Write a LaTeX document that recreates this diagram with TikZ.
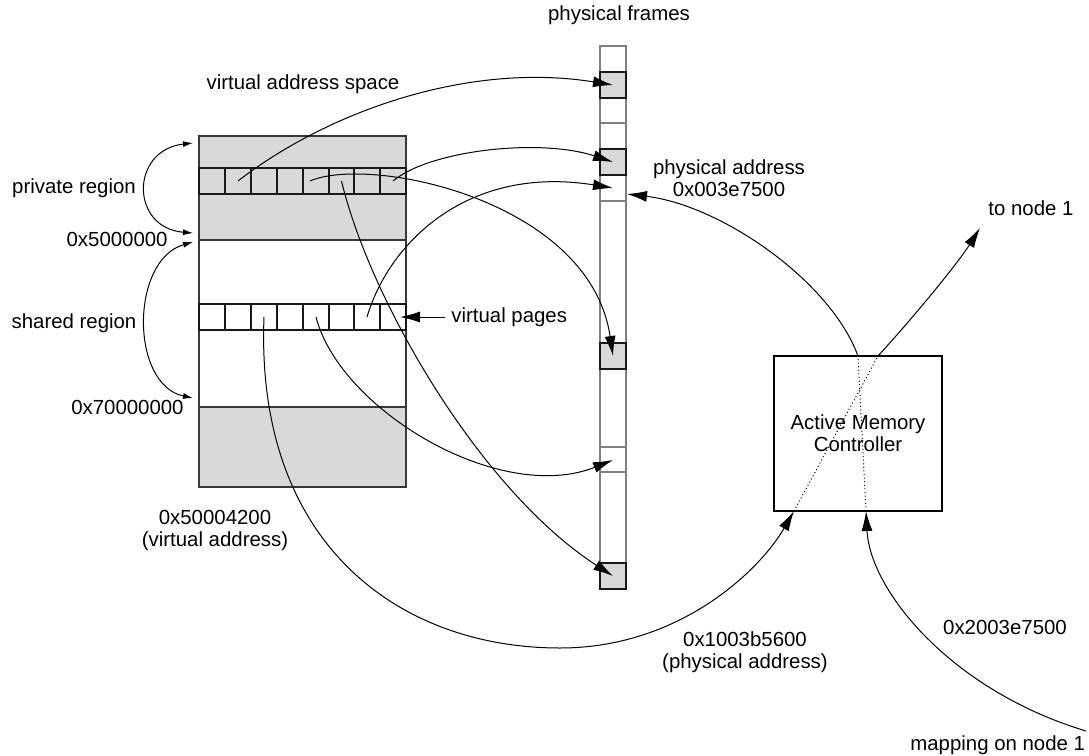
\documentclass[tikz,border=0pt]{standalone}
\usepackage{fontspec}
\setmainfont{Liberation Sans}
\usetikzlibrary{arrows.meta}
\definecolor{pagegray}{RGB}{217,217,217}
\definecolor{edgegray}{RGB}{56,56,56}
\definecolor{colgray}{RGB}{128,128,128}

\begin{document}
\begin{tikzpicture}[x=0.5pt, y=-0.5pt,
  every node/.style={font=\fontsize{10.2}{11}\selectfont, inner sep=0pt},
  link/.style={line width=0.5pt, -{Latex[length=10pt,width=5.5pt]}},
  span/.style={line width=0.5pt, {Latex[length=5pt,width=3pt]}-{Latex[length=5pt,width=3pt]}},
  through/.style={line width=0.5pt, dash pattern=on 0.5pt off 1.3pt},
  blockline/.style={draw=edgegray, line width=0.9pt},
  cellline/.style={draw=black!90, line width=0.7pt},
  colline/.style={draw=colgray, line width=0.7pt}]

\useasboundingbox (0,0) rectangle (1089,756);

\fill[pagegray] (199,136) rectangle (406,240);
\fill[pagegray] (199,407) rectangle (406,487);
\draw[blockline] (199,136) rectangle (406,487);
\draw[blockline] (199,240) -- (406,240);
\draw[blockline] (199,407) -- (406,407);
\foreach \i/\l/\r in {1/199/225, 2/225/251, 3/251/277, 4/277/303, 5/303/329, 6/329/354, 7/354/380, 8/380/406} {
  \draw[cellline] (\l,168) rectangle (\r,194);
  \draw[cellline] (\l,304) rectangle (\r,330);
  \coordinate (priv\i) at ({(\l+\r)/2},181);
  \coordinate (shr\i) at ({(\l+\r)/2},317);
}

\draw[colline] (600,46) rectangle (626,589);
\foreach \y in {123,201,447,472}
  \draw[colline] (600,\y) -- (626,\y);
\foreach \y in {72,149,343,563}
  \draw[cellline, fill=pagegray] (600,\y) rectangle (626,\y+26);
\coordinate (frm1) at (613,85);
\coordinate (frm2) at (613,162);
\coordinate (frm3) at (613,188);
\coordinate (frm4) at (613,356);
\coordinate (frm5) at (613,460);
\coordinate (frm6) at (613,576);
\coordinate (pin) at (627,194);

\node[draw, line width=0.6pt, minimum width=84pt, minimum height=77.5pt, align=center] (amc) at (858,433.5) {Active Memory\\Controller};
\coordinate (amcin1) at (794,511);
\coordinate (amcout1) at (878,356);
\coordinate (amcin2) at (866,511);
\coordinate (amcout2) at (858,356);

\node (frames) at (619,15) {physical frames};
\node (vas) at (303,84) {virtual address space};
\node (private) at (74,188) {private region};
\node[anchor=east] (a5) at (168,239) {0x5000000};
\node (shared) at (74,323) {shared region};
\node[anchor=east] (a7) at (184,407) {0x70000000};
\node[anchor=west] (vpages) at (451,317) {virtual pages};
\node[align=center] (paddr) at (729,178) {physical address\\0x003e7500};
\node[anchor=west] (tonode) at (988,208) {to node 1};
\node[align=center] (vaddr) at (215,530) {0x50004200\\(virtual address)};
\node[align=center] (paddr2) at (745,652) {0x1003b5600\\(physical address)};
\node (remote) at (1005,627) {0x2003e7500};
\node[anchor=west] (mapping) at (910,745) {mapping on node 1};

\coordinate (vtop) at (193,143);
\coordinate (v5) at (193,233);
\coordinate (v5b) at (193,242);
\coordinate (v7) at (193,398);
\coordinate (vpgtip) at (400,317);
\coordinate (tonodetip) at (980,228);
\coordinate (mapfoot) at (1086,731);
\coordinate (low) at (560,648);

\draw[span] (vtop) .. controls (130,150) and (130,228) .. (v5);
\draw[span] (v5b) .. controls (130,260) and (130,385) .. (v7);
\draw[link] ([xshift=-3pt]vpages.west) -- (vpgtip);

\draw[link] (priv2) .. controls (330,110) and (470,62) .. (frm1);
\draw[link] (priv8) .. controls (430,150) and (540,138) .. (frm2);
\draw[link] ([xshift=-3pt]priv5) .. controls (370,155) and (590,200) .. (frm4);
\draw[link] (shr7) .. controls (390,240) and (470,165) .. (frm3);
\draw[link] (priv6) .. controls (370,300) and (480,490) .. (frm6);
\draw[link] (shr5) .. controls (340,410) and (500,505) .. (frm5);
\draw[link] (shr3) .. controls (255,545) and (400,648) .. (low) .. controls (680,648) and (760,570) .. (amcin1);
\draw[link] (mapfoot) .. controls (950,690) and (870,590) .. (amcin2);
\draw[link] (amcout2) .. controls (830,280) and (720,205) .. (pin);
\draw[link] (amcout1) .. controls (920,310) and (960,260) .. (tonodetip);

\draw[through] (amcin1) -- (amcout1);
\draw[through] (amcin2) -- (amcout2);

\end{tikzpicture}
\end{document}
